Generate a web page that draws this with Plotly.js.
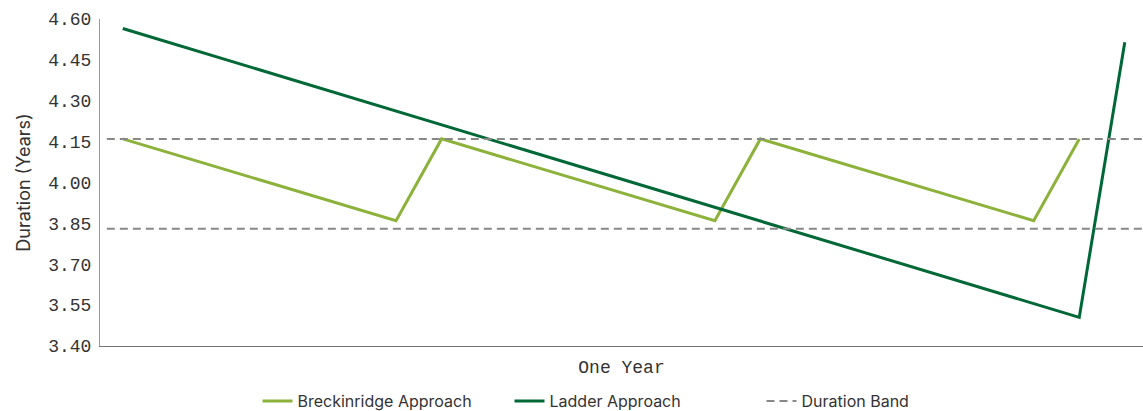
<!DOCTYPE html>
<html>
<head>
<meta charset="utf-8">
<script src="https://cdn.plot.ly/plotly-3.0.1.min.js"></script>
<style>html,body{margin:0;padding:0;background:#fff;}#chart{width:1143px;height:411px;}</style>
</head>
<body>
<div id="chart"></div>
<script>
// x positions (months-like steps within one year)
const breckX = [0, 6, 7, 13, 14, 20, 21];
const breckY = [4.16, 3.86, 4.16, 3.86, 4.16, 3.86, 4.16];
const ladderX = [0, 21, 22];
const ladderY = [4.565, 3.505, 4.515];
const bandX = [-0.35, 22.4];
const bandUpper = 4.16;
const bandLower = 3.83;
const yTicks = [3.40, 3.55, 3.70, 3.85, 4.00, 4.15, 4.30, 4.45, 4.60];

const mono = "'Liberation Mono', 'DejaVu Sans Mono', monospace";
const sans = "Inter, 'Noto Sans', sans-serif";

const traces = [
  {x: breckX, y: breckY, mode: 'lines', name: 'Breckinridge Approach',
   line: {color: '#8cb23b', width: 3}},
  {x: ladderX, y: ladderY, mode: 'lines', name: 'Ladder Approach',
   line: {color: '#006837', width: 3}},
  {x: bandX.concat([null], bandX), y: [bandUpper, bandUpper, null, bandLower, bandLower],
   mode: 'lines', name: 'Duration Band', connectgaps: false,
   line: {color: '#888888', width: 2, dash: '8px,5px'}}
];

const layout = {
  width: 1143, height: 411,
  margin: {l: 100, r: 0, t: 19, b: 65},
  paper_bgcolor: '#fff', plot_bgcolor: '#fff',
  showlegend: true,
  legend: {orientation: 'h', x: 0.556, xanchor: 'center', xref: 'container',
           y: 0.0243, yanchor: 'middle', yref: 'container',
           itemwidth: 30, entrywidth: 207, tracegroupgap: 0,
           font: {family: sans, size: 16, color: '#333'}},
  xaxis: {range: [-0.5, 22.4], showticklabels: false, ticks: '', showgrid: false,
          zeroline: false, showline: true, linecolor: '#777', linewidth: 1,
          title: {text: 'One Year', font: {family: mono, size: 18, color: '#333'}, standoff: 14}},
  yaxis: {range: [3.40, 4.60], tickvals: yTicks, ticktext: yTicks.map(v => v.toFixed(2)),
          showgrid: false, zeroline: false, showline: true, linecolor: '#999', linewidth: 1,
          ticks: '', ticklen: 0, ticklabelstandoff: 4,
          tickfont: {family: mono, size: 18, color: '#333'},
          title: {text: 'Duration (Years)', font: {family: sans, size: 18, color: '#333'}, standoff: 12}}
};

Plotly.newPlot('chart', traces, layout, {displayModeBar: false, staticPlot: true});
</script>
</body>
</html>
